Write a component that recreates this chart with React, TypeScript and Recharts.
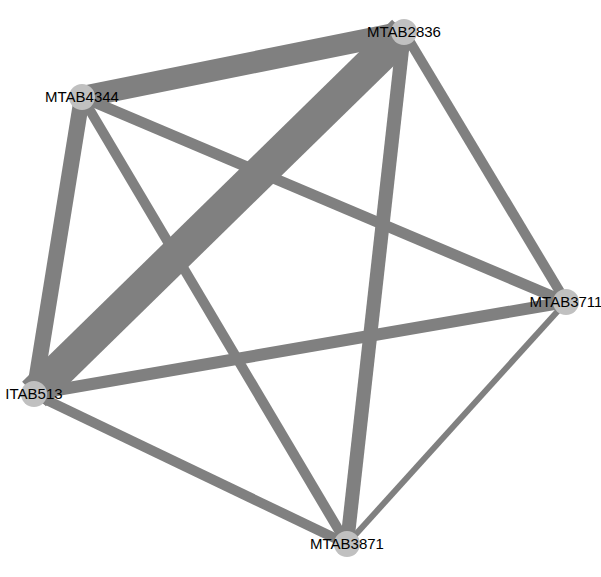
import { ScatterChart, Scatter, XAxis, YAxis, ReferenceLine } from "recharts";

const nodeNames = ["MTAB2836", "MTAB4344", "ITAB513", "MTAB3871", "MTAB3711"];
const nodeX = [404, 82, 34, 347, 566];
const nodeY = [32, 97, 394, 544, 302];

const edgeFrom = [2, 1, 1, 0, 2, 1, 0, 1, 2, 4];
const edgeTo = [0, 0, 2, 3, 4, 4, 4, 3, 3, 3];
const edgeWeight = [34, 22, 16, 14, 12, 11, 10, 10, 10, 6];

const nodes = nodeNames.map((name, i) => ({ name, x: nodeX[i], y: nodeY[i] }));

const NodeShape = (props: any) => {
  const { cx, cy, payload } = props;
  return (
    <g>
      <circle cx={cx} cy={cy} r={13} fill="#c0c0c0" />
      <text
        x={cx}
        y={cy + 5}
        textAnchor="middle"
        fontSize={15}
        fontFamily="Liberation Sans, Arial, sans-serif"
        fill="#000"
      >
        {payload.name}
      </text>
    </g>
  );
};

export default function App() {
  return (
    <div style={{ position: "absolute", top: 0, left: 0 }}>
      <ScatterChart width={601} height={577} margin={{ top: 0, right: 0, bottom: 0, left: 0 }}>
        <XAxis type="number" dataKey="x" domain={[0, 601]} hide />
        <YAxis type="number" dataKey="y" domain={[0, 577]} reversed hide />
        {edgeFrom.map((f, i) => (
          <ReferenceLine
            key={i}
            segment={[
              { x: nodeX[f], y: nodeY[f] },
              { x: nodeX[edgeTo[i]], y: nodeY[edgeTo[i]] },
            ]}
            stroke="#808080"
            strokeWidth={edgeWeight[i]}
            ifOverflow="visible"
          />
        ))}
        <Scatter data={nodes} shape={NodeShape} isAnimationActive={false} />
      </ScatterChart>
    </div>
  );
}
